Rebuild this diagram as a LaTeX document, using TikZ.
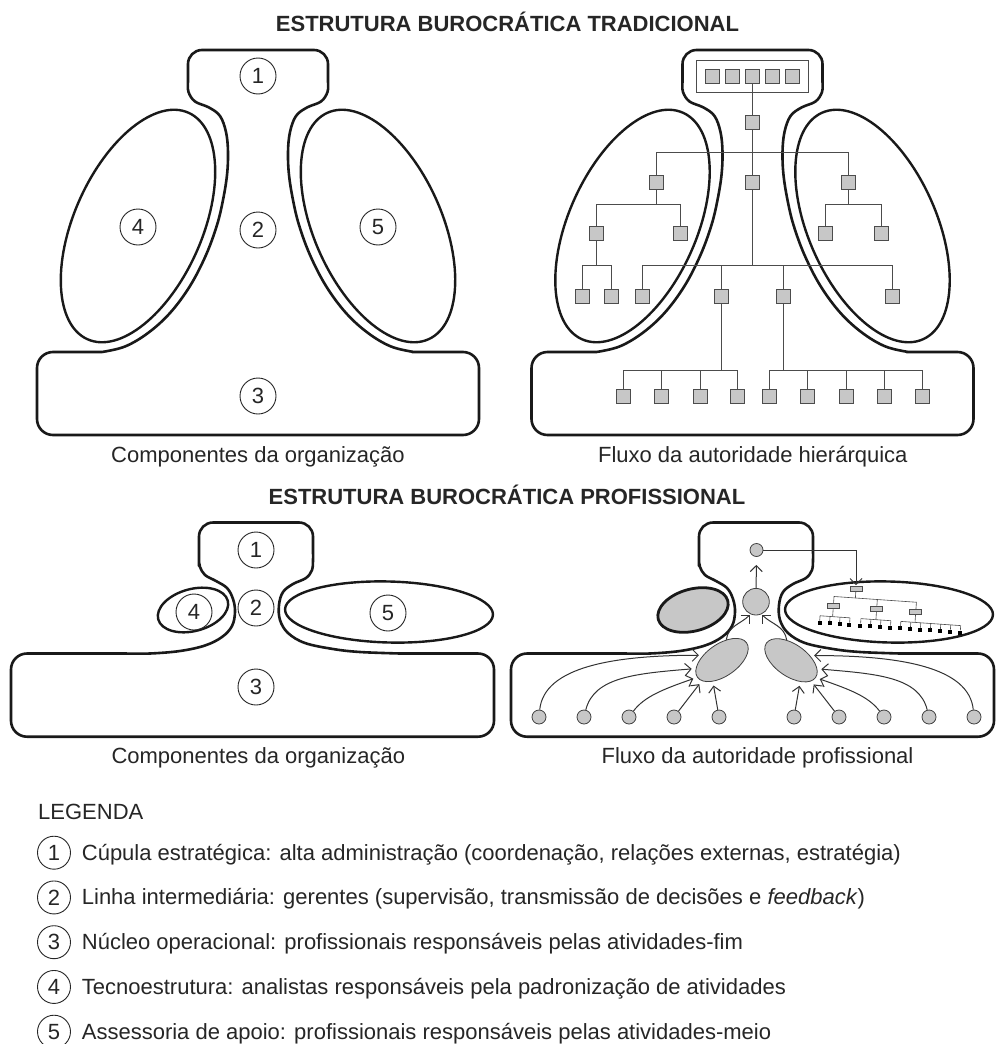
\documentclass[tikz,border=0pt]{standalone}
\usepackage{fontspec}
\setmainfont{Liberation Sans}
\usetikzlibrary{shapes.geometric,arrows.meta}
\newcommand{\ttlfont}{\fontsize{22}{26}\selectfont\bfseries}
\newcommand{\captfont}{\fontsize{22}{26}\selectfont}
\newcommand{\numfont}{\fontsize{22}{26}\selectfont}

\begin{document}
\begin{tikzpicture}[x=1pt,y=-1pt]
\tikzstyle{every node}=[text=black!85]
\tikzstyle{contour}=[line width=2.6pt, draw=black!90, line join=round]
\tikzstyle{lobe}=[line width=2.4pt, draw=black!90]
\tikzstyle{num}=[circle, draw=black!85, line width=0.9pt, minimum size=36pt, inner sep=0pt, font=\numfont]
\tikzstyle{sq}=[draw=black!70, fill=black!22, line width=0.8pt, minimum size=14pt, inner sep=0pt]
\tikzstyle{tline}=[line width=0.8pt, draw=black!70]
\tikzstyle{dot}=[circle, draw=black!75, fill=black!22, line width=0.8pt, inner sep=0pt, minimum size=14pt]
\tikzstyle{blob}=[ellipse, draw=black!75, fill=black!22, line width=0.8pt, inner sep=0pt, minimum width=60pt, minimum height=32pt]
\tikzstyle{rect}=[draw=black!70, fill=black!22, line width=0.6pt, minimum width=12pt, minimum height=5pt, inner sep=0pt]
\tikzstyle{leaf}=[fill=black, minimum size=4pt, inner sep=0pt]
\tikzstyle{flow}=[line width=1pt, draw=black!80, -{Straight Barb[length=6pt,width=12pt]}, shorten >=4pt]
\useasboundingbox (0,0) rectangle (996,1044);
\fill[white] (0,0) rectangle (996,1044);

% titles and captions
\node[anchor=base, font=\ttlfont] (title1) at (507.5,31.7) {ESTRUTURA BUROCRÁTICA TRADICIONAL};
\node[anchor=base, font=\ttlfont] (title2) at (507,504) {ESTRUTURA BUROCRÁTICA PROFISSIONAL};
\node[anchor=base, font=\captfont] (cap1) at (258,462.5) {Componentes da organização};
\node[anchor=base, font=\captfont] (cap2) at (752.8,462.5) {Fluxo da autoridade hierárquica};
\node[anchor=base, font=\captfont] (cap3) at (258.3,763.3) {Componentes da organização};
\node[anchor=base, font=\captfont] (cap4) at (757.5,763.3) {Fluxo da autoridade profissional};

% traditional shape, twice
\foreach \dx in {0,494.5}{
\begin{scope}[xshift=\dx]
\draw[contour] (90,352) [rounded corners=16] -- (37,352) -- (37,435) -- (479,435) -- (479,352) -- (428,352) [sharp corners]
  -- plot[smooth, tension=0.6] coordinates {(414,352) (391,346.5) (368,333) (346,313) (326,286) (310,255) (299,225) (293,200) (289,175) (288,152) (290,132) (296,116) (307,107.5) (321,101.5) (327.5,92) (328,82)}
  [rounded corners=14] -- (328,50) -- (188,50) -- (188,82) [sharp corners]
  -- plot[smooth, tension=0.6] coordinates {(188,82) (188.5,92) (195,101.5) (209,107.5) (220,116) (226,132) (228,152) (227,175) (223,200) (217,225) (206,255) (190,286) (170,313) (148,333) (125,346.5) (102,352)}
  -- cycle;
\draw[lobe, rotate around={66:(138,226)}] (138,226) ellipse [x radius=124pt, y radius=64pt];
\draw[lobe, rotate around={-66:(378,226)}] (378,226) ellipse [x radius=124pt, y radius=64pt];
\end{scope}
}

% components (traditional)
\node[num] (n1) at (258,76) {1};
\node[num] (n2) at (258,230) {2};
\node[num] (n3) at (258,396) {3};
\node[num] (n4) at (138,227) {4};
\node[num] (n5) at (378,227) {5};

% hierarchy (traditional)
\node[draw=black!70, line width=0.8pt, minimum width=112pt, minimum height=32pt, inner sep=0pt] (topbox) at (752.5,76.7) {};
\foreach \x [count=\i] in {712.5,732.5,752.5,772.5,792.5}
  \node[sq] (top\i) at (\x,76.7) {};
\node[sq] (a0) at (752.5,122.3) {};
\node[sq] (b1) at (656.7,182.7) {};
\node[sq] (b2) at (752.5,182.7) {};
\node[sq] (b3) at (848.3,182.7) {};
\node[sq] (c1) at (596,233.3) {};
\node[sq] (c2) at (680,233.3) {};
\node[sq] (c3) at (825,233.3) {};
\node[sq] (c4) at (881,233.3) {};
\node[sq] (d1) at (582.3,296.7) {};
\node[sq] (d2) at (611,296.7) {};
\node[sq] (e1) at (642.7,296.7) {};
\node[sq] (e2) at (721,296.7) {};
\node[sq] (e3) at (783.7,296.7) {};
\node[sq] (e4) at (892,296.7) {};
\foreach \x [count=\i] in {623.7,661.7,700,737.7}
  \node[sq] (f\i) at (\x,396) {};
\foreach \x [count=\i] in {769.7,807.7,846,884,922.3}
  \node[sq] (g\i) at (\x,396) {};
\draw[tline] (top3) -- (a0);
\foreach \c in {b1,b2,b3} \draw[tline] (a0) -- ++(0,30.4) -| (\c);
\foreach \c in {c1,c2} \draw[tline] (b1) -- ++(0,21.6) -| (\c);
\foreach \c in {c3,c4} \draw[tline] (b3) -- ++(0,21.6) -| (\c);
\foreach \c in {d1,d2} \draw[tline] (c1) -- ++(0,32.4) -| (\c);
\foreach \c in {e1,e2,e3,e4} \draw[tline] (b2) -- ++(0,83) -| (\c);
\foreach \c in {f1,f2,f3,f4} \draw[tline] (e2) -- ++(0,73.3) -| (\c);
\foreach \c in {g1,g2,g3,g4,g5} \draw[tline] (e3) -- ++(0,73.3) -| (\c);

% professional shape, twice
\foreach \dx in {0,500}{
\begin{scope}[xshift=\dx]
\draw[contour] (100,653.5) [rounded corners=16] -- (11,653.5) -- (11,736.7) -- (494,736.7) -- (494,653.5) -- (415,653.5) [sharp corners]
  -- plot[smooth, tension=0.6] coordinates {(400,653.5) (360,652) (333,649) (305,643) (288,633) (280,620) (279,605) (283,592) (293,584) (306,578) (312,570) (313,560) (313,552)}
  [rounded corners=14] -- (313,522.5) -- (199,522.5) -- (199,552) [sharp corners]
  -- plot[smooth, tension=0.6] coordinates {(199,560) (200,567) (205,575) (216,581) (227,588) (233,599) (235,612) (232,626) (222,637) (205,645.5) (180,651) (150,653.5) (125,653.5)}
  -- cycle;
\draw[lobe, rotate around={-1.5:(389,612)}] (389,612) ellipse [x radius=104pt, y radius=30.5pt];
\end{scope}
}
\draw[lobe, rotate around={15:(193,610)}] (193,610) ellipse [x radius=36pt, y radius=21pt];
\draw[lobe, line width=2.8pt, fill=black!22, rotate around={15:(693,610)}] (693,610) ellipse [x radius=36pt, y radius=21pt];

% components (professional)
\node[num] (m1) at (256,550) {1};
\node[num] (m2) at (256,608) {2};
\node[num] (m3) at (256,687) {3};
\node[num] (m4) at (194,612) {4};
\node[num] (m5) at (388,613) {5};

% professional authority flow
\node[dot, minimum size=13pt] (S) at (756.5,550) {};
\node[dot, minimum size=26.6pt] (B) at (756,601.7) {};
\node[blob, rotate=35] (L) at (722,660) {};
\node[blob, rotate=-35] (R) at (791,660.3) {};
\foreach \x [count=\i] in {539,584,629,674,719}
  \node[dot] (p\i) at (\x,717) {};
\foreach \x [count=\i] in {794,839,884,929,974}
  \node[dot] (q\i) at (\x,717) {};
\draw[flow] (p1) .. controls +(5,-50) and +(-90,0) .. (L.131);
\draw[flow] (p2) .. controls +(10,-40) and +(-60,5) .. (L.163);
\draw[flow] (p3) .. controls +(15,-20) and +(-35,12) .. (L.180);
\draw[flow] (p4) -- (L.191);
\draw[flow] (p5) -- (L.212);
\draw[flow] (q1) -- (R.328);
\draw[flow] (q2) -- (R.349);
\draw[flow] (q3) .. controls +(-15,-20) and +(35,12) .. (R.0);
\draw[flow] (q4) .. controls +(-10,-40) and +(60,5) .. (R.17);
\draw[flow] (q5) .. controls +(-5,-50) and +(90,0) .. (R.49);
\draw[flow, shorten >=1pt] (L.43) .. controls +(2,-14) and +(-10,10) .. (B.246);
\draw[flow, shorten >=1pt] (R.137) .. controls +(-2,-14) and +(10,10) .. (B.294);
\draw[flow, shorten >=8pt] (B) -- (S);

% support staff tree
\begin{scope}[shift={(856,589)}, rotate=-4]
\node[rect] (t0) at (0,0) {};
\node[rect] (t1) at (-21.4,18.7) {};
\node[rect] (t2) at (22,18.7) {};
\node[rect] (t3) at (61.2,18.7) {};
\draw[tline, line width=0.6pt] (t0) -- ++(0,9) (t1) -- ++(0,-9.7) -- ++(82.6,0) -- (t3) (t2) -- ++(0,-9.7);
\foreach \x [count=\i] in {-34,-24,-14,-4,7,17,27,37,47,57,67,77,87,97,107}{
  \node[leaf] (l\i) at (\x,36.2) {};
  \draw[tline, line width=0.6pt] (l\i) -- ++(0,-7);
}
\draw[tline, line width=0.6pt] (t1) -- ++(0,10.5) (t2) -- ++(0,10.5) (t3) -- ++(0,10.5);
\draw[tline, line width=0.6pt] (l1) ++(0,-7) -- ++(30,0) (l5) ++(0,-7) -- ++(30,0) (l9) ++(0,-7) -- ++(60,0);
\end{scope}
\draw[flow, shorten >=1pt] (S) -| (t0);

% legend
\node[anchor=base west, font=\captfont, inner sep=0pt] (leg) at (38,819.5) {LEGENDA};
\foreach \i/\txt in {1/{Cúpula estratégica: alta administração (coordenação, relações externas, estratégia)},
                     2/{Linha intermediária: gerentes (supervisão, transmissão de decisões e \textit{feedback})},
                     3/{Núcleo operacional: profissionais responsáveis pelas atividades-fim},
                     4/{Tecnoestrutura: analistas responsáveis pela padronização de atividades},
                     5/{Assessoria de apoio: profissionais responsáveis pelas atividades-meio}}{
  \node[num, minimum size=33pt] (leg\i) at (54,{852.7+44.75*(\i-1)}) {\i};
  \node[anchor=base west, font=\captfont, inner sep=0pt] (legtxt\i) at (81.7,{860+44.75*(\i-1)}) {\txt};
}
\end{tikzpicture}
\end{document}
